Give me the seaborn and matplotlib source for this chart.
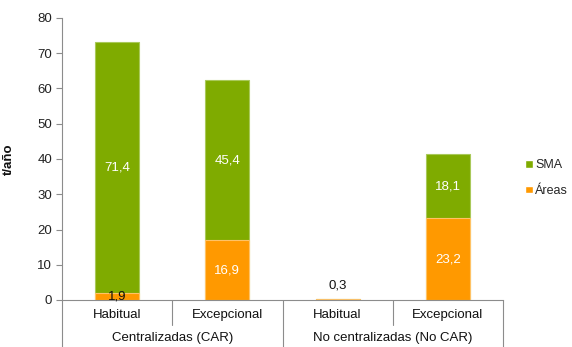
import matplotlib
matplotlib.use("Agg")
import matplotlib.pyplot as plt
import matplotlib.transforms as mtransforms
from matplotlib.patches import Patch
import seaborn as sns
import pandas as pd

# Data (t/año)
categories = ["Habitual", "Excepcional", "Habitual ", "Excepcional "]
tick_labels = ["Habitual", "Excepcional", "Habitual", "Excepcional"]
groups = ["Centralizadas (CAR)", "No centralizadas (No CAR)"]
areas = [1.9, 16.9, 0.3, 23.2]
sma = [71.4, 45.4, 0.0, 18.1]
y_ticks = [0, 10, 20, 30, 40, 50, 60, 70, 80]

GREEN = "#7fab00"
ORANGE = "#ff9900"
GRID = "#8c8c8c"
FS = 9.5

sns.set_theme(style="white")
plt.rcParams["font.family"] = ["Liberation Sans", "DejaVu Sans"]

df = pd.DataFrame({"cat": categories, "areas": areas, "sma": sma})
df["total"] = df["areas"] + df["sma"]

fig = plt.figure(figsize=(5.72, 3.47), dpi=100)
ax = fig.add_axes([62 / 572, 1 - 300 / 347, (503 - 62) / 572, (300 - 18) / 347])

sns.barplot(data=df, x="cat", y="total", color=GREEN, width=0.4, saturation=1,
            edgecolor="#a9c95a", linewidth=0.8, ax=ax)
sns.barplot(data=df, x="cat", y="areas", color=ORANGE, width=0.4, saturation=1,
            edgecolor="#ffc266", linewidth=0.8, ax=ax)

ax.set_xlim(-0.5, len(categories) - 0.5)
ax.set_ylim(0, 80)
ax.set_yticks(y_ticks)
ax.set_yticklabels([str(t) for t in y_ticks], fontsize=FS, color="#222222")
ax.set_xticks([])
ax.set_xlabel("")
ax.set_ylabel("t/año", fontsize=FS, fontweight="bold", color="#111111")
ax.yaxis.set_label_coords((15 - 62) / 441, 0.5)
ax.tick_params(axis="y", length=4, width=0.8, color=GRID, direction="out", pad=3, left=True)

for s in ["top", "right"]:
    ax.spines[s].set_visible(False)
for s in ["left", "bottom"]:
    ax.spines[s].set_color(GRID)
    ax.spines[s].set_linewidth(0.8)

# Value labels
for i, (a, s) in enumerate(zip(areas, sma)):
    if s > 0:
        ax.text(i, a + s / 2, f"{s:.1f}".replace(".", ","), ha="center", va="center",
                color="white", fontsize=FS)
    if a >= 5:
        ax.text(i, a / 2, f"{a:.1f}".replace(".", ","), ha="center", va="center",
                color="white", fontsize=FS)
    elif s > 0:
        ax.text(i, a / 2, f"{a:.1f}".replace(".", ","), ha="center", va="center",
                color="#111111", fontsize=FS)
    else:
        ax.text(i, a + 2.0, f"{a:.1f}".replace(".", ","), ha="center", va="bottom",
                color="#111111", fontsize=FS)

# Two-level category axis below the plot
trans = mtransforms.blended_transform_factory(ax.transData, fig.transFigure)
short_bottom = 1 - 325 / 347
zero_y = 1 - 300 / 347
for k in range(len(categories) + 1):
    xb = k - 0.5
    yb = 0.0 if k % 2 == 0 else short_bottom
    ax.plot([xb, xb], [zero_y, yb], transform=trans, color=GRID, lw=0.8, clip_on=False)

for i, lab in enumerate(tick_labels):
    ax.text(i, 1 - 315 / 347, lab, transform=trans, ha="center", va="center",
            fontsize=FS, color="#111111")
for g, name in enumerate(groups):
    ax.text(2 * g + 0.5, 1 - 338 / 347, name, transform=trans, ha="center", va="center",
            fontsize=FS, color="#111111")

handles = [Patch(facecolor=GREEN, label="SMA"), Patch(facecolor=ORANGE, label="Áreas")]
fig.legend(handles=handles, loc="center left", bbox_to_anchor=(525 / 572, 1 - 178 / 347),
           frameon=False, fontsize=9, handlelength=0.6, handleheight=0.6,
           handletextpad=0.2, labelspacing=1.1, borderaxespad=0, borderpad=0)

fig.savefig("out.png", dpi=100)
